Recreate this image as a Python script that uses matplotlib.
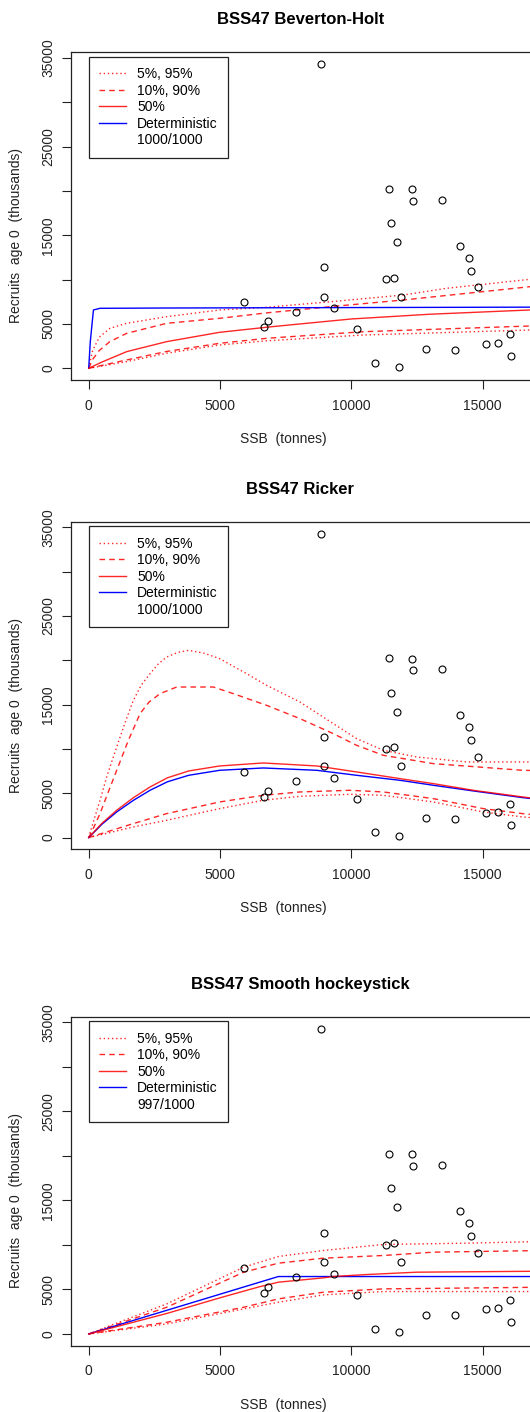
import numpy as np
import matplotlib
matplotlib.use("Agg")
import matplotlib.pyplot as plt
from matplotlib.lines import Line2D

plt.rcParams['font.family'] = ['Liberation Sans', 'DejaVu Sans']

# observed stock-recruit pairs
ssb = [8846, 11434, 12297, 12360, 13439, 11510, 11726, 14137, 14492, 14555,
       8972, 11307, 11611, 14822, 8972, 11903, 5901, 7893, 9340, 6827,
       6688, 10228, 16027, 15114, 15596, 12855, 13934, 16091, 10888, 11802]
rec = [34283, 20261, 20186, 18908, 19021, 16352, 14209, 13833, 12480, 10976,
       11390, 10037, 10187, 9134, 8044, 8044, 7443, 6390, 6766, 5300,
       4624, 4398, 3834, 2782, 2894, 2180, 2105, 1391, 601, 188]

titles = ["BSS47 Beverton-Holt", "BSS47 Ricker", "BSS47 Smooth hockeystick"]
counts = ["1000/1000", "1000/1000", "997/1000"]

# Beverton-Holt
bh_p95_x = [0, 150, 400, 800, 1447, 2970, 4987, 6776, 8000, 9189, 11980, 13633, 16805, 17300]
bh_p95_y = [0, 2000, 3500, 4500, 5075, 5826, 6578, 6879, 7200, 7500, 8268, 9023, 10038, 10150]
bh_p90_x = [0, 150, 400, 800, 1447, 2970, 4987, 6776, 9189, 11980, 16805, 17300]
bh_p90_y = [0, 1000, 2000, 3000, 3947, 5075, 5638, 6250, 6948, 7704, 9204, 9300]
bh_p50_x = [0, 500, 1447, 2970, 4987, 7000, 10000, 13000, 16805, 17300]
bh_p50_y = [0, 700, 1880, 3007, 4060, 4700, 5563, 6100, 6578, 6620]
bh_p10_x = [0, 1447, 2970, 4987, 6776, 10458, 16805, 17300]
bh_p10_y = [0, 940, 1900, 2819, 3383, 4128, 4771, 4790]
bh_p05_x = [0, 1447, 2970, 4987, 6776, 10458, 16805, 17300]
bh_p05_y = [0, 752, 1700, 2631, 3100, 3756, 4320, 4340]
bh_det_x = [0, 60, 180, 430, 3000, 17300]
bh_det_y = [0, 3000, 6578, 6766, 6800, 6900]

# Ricker
rk_p95_x = [0, 200, 431, 700, 1066, 1400, 1700, 2000, 2335, 2650, 2970, 3400, 3807, 4400, 4987, 6015, 6776, 8045, 9314, 10203, 11218, 12487, 14390, 16522, 17300]
rk_p95_y = [0, 2000, 4210, 7000, 10224, 13100, 15487, 17200, 18494, 19600, 20374, 20900, 21126, 20800, 20186, 18494, 17179, 15299, 12856, 11164, 9849, 9097, 8533, 8533, 8550]
rk_p90_x = [0, 200, 431, 700, 1066, 1500, 1954, 2300, 2716, 3350, 4746, 5507, 6776, 8045, 9314, 10203, 11218, 13122, 16522, 17300]
rk_p90_y = [0, 1200, 2706, 4800, 7593, 10900, 13983, 15300, 16239, 16990, 16990, 16239, 14923, 13420, 11728, 10412, 9285, 8345, 7593, 7550]
rk_p50_x = [0, 500, 1066, 1700, 2335, 3000, 3807, 4987, 6649, 8680, 10203, 11853, 13122, 14644, 16522, 17300]
rk_p50_y = [0, 1600, 3082, 4500, 5714, 6750, 7518, 8082, 8420, 8082, 7405, 6653, 6090, 5338, 4586, 4300]
rk_p10_x = [0, 1700, 2970, 4987, 6649, 8045, 9949, 11218, 13122, 15025, 16522, 17300]
rk_p10_y = [0, 1579, 2706, 4022, 4774, 5150, 5338, 5150, 4398, 3270, 2706, 2500]
rk_p05_x = [0, 1700, 2970, 4987, 6649, 8045, 9949, 11218, 13122, 15025, 16522, 17300]
rk_p05_y = [0, 1203, 1955, 3270, 4210, 4661, 4887, 4774, 4022, 2894, 2331, 2150]
rk_det_x = [0, 500, 1066, 1700, 2335, 3000, 3807, 4987, 6649, 8680, 10203, 11853, 13122, 14644, 16522, 17300]
rk_det_y = [0, 1500, 2894, 4200, 5338, 6300, 7029, 7593, 7856, 7593, 7029, 6465, 5902, 5263, 4511, 4250]

# smooth hockeystick
hs_p95_x = [0, 2970, 5901, 7220, 8934, 11218, 14390, 17300]
hs_p95_y = [0, 3375, 7500, 8700, 9375, 10050, 10200, 10388]
hs_p90_x = [0, 2970, 5901, 7220, 8934, 11218, 13122, 17300]
hs_p90_y = [0, 3000, 6938, 7950, 8513, 8813, 9188, 9375]
hs_p50_x = [0, 2970, 4987, 6500, 7220, 8934, 9300, 10583, 12487, 17300]
hs_p50_y = [0, 2300, 4050, 5300, 5813, 6300, 6450, 6675, 6938, 7050]
hs_p10_x = [0, 2970, 5901, 7220, 8934, 11218, 17300]
hs_p10_y = [0, 1313, 3000, 3938, 4688, 5063, 5250]
hs_p05_x = [0, 2970, 5901, 7220, 8934, 11218, 17300]
hs_p05_y = [0, 1125, 2813, 3563, 4388, 4763, 4763]
hs_det_x = [0, 7220, 17300]
hs_det_y = [0, 6450, 6450]

panels = [
    (bh_p95_x, bh_p95_y, bh_p90_x, bh_p90_y, bh_p50_x, bh_p50_y, bh_p10_x, bh_p10_y, bh_p05_x, bh_p05_y, bh_det_x, bh_det_y),
    (rk_p95_x, rk_p95_y, rk_p90_x, rk_p90_y, rk_p50_x, rk_p50_y, rk_p10_x, rk_p10_y, rk_p05_x, rk_p05_y, rk_det_x, rk_det_y),
    (hs_p95_x, hs_p95_y, hs_p90_x, hs_p90_y, hs_p50_x, hs_p50_y, hs_p10_x, hs_p10_y, hs_p05_x, hs_p05_y, hs_det_x, hs_det_y),
]

W, H = 530, 1412
fig = plt.figure(figsize=(W / 100, H / 100), dpi=100)

red = (1.0, 0.0, 0.0, 0.85)
dotted = (0, (1, 2))
dashed = (0, (4, 3))
lw = 1.0

# axes top/bottom in pixels
boxes = [(52.3, 380.0), (521.7, 849.3), (1016.7, 1345.7)]
left_px, right_px = 71.3, 541.4

for i, (top, bot) in enumerate(boxes):
    ax = fig.add_axes([left_px / W, 1 - bot / H, (right_px - left_px) / W, (bot - top) / H])
    p95x, p95y, p90x, p90y, p50x, p50y, p10x, p10y, p05x, p05y, detx, dety = panels[i]

    ax.plot(p95x, p95y, color=red, ls=dotted, lw=lw)
    ax.plot(p90x, p90y, color=red, ls=dashed, lw=lw)
    ax.plot(p10x, p10y, color=red, ls=dashed, lw=lw)
    ax.plot(p05x, p05y, color=red, ls=dotted, lw=lw)
    ax.plot(detx, dety, color='blue', lw=lw)
    ax.plot(p50x, p50y, color=red, lw=lw)
    ax.plot(ssb, rec, 'o', mfc='none', mec='black', ms=5, mew=0.8)

    ax.set_xlim(-663, 17238)
    ax.set_ylim(-1320, 35640)
    ax.set_xticks([0, 5000, 10000, 15000])
    ax.set_yticks([0, 5000, 10000, 15000, 20000, 25000, 30000, 35000])
    ax.set_yticklabels(['0', '5000', '', '15000', '', '25000', '', '35000'],
                       rotation=90, va='center')
    ax.tick_params(direction='out', length=6.5, width=0.8, labelsize=10,
                   colors='#222222')
    ax.tick_params(axis='y', pad=5)
    ax.tick_params(axis='x', pad=7)
    for sp in ax.spines.values():
        sp.set_color('#222222')
        sp.set_linewidth(0.9)

    handles = [
        Line2D([], [], color=red, ls=dotted, lw=lw),
        Line2D([], [], color=red, ls=dashed, lw=lw),
        Line2D([], [], color=red, lw=lw),
        Line2D([], [], color='blue', lw=lw),
        Line2D([], [], color='none', lw=0),
    ]
    labels = ["5%, 95%", "10%, 90%", "50%", "Deterministic", counts[i]]
    leg = ax.legend(handles, labels, loc='upper left',
                    bbox_to_anchor=((88.7 - left_px) / (right_px - left_px),
                                    1 - 4.4 / (bot - top)),
                    borderaxespad=0, fancybox=False, framealpha=1,
                    edgecolor='#222222', fontsize=10, handlelength=1.9,
                    handletextpad=0.85, labelspacing=0.18, borderpad=0.75)
    leg.get_frame().set_linewidth(0.9)

    fig.text(300.5 / W, 1 - (top - 32.5) / H, titles[i], ha='center', va='center',
             fontsize=12, fontweight='bold')
    fig.text(283 / W, 1 - (bot + 59) / H, "SSB  (tonnes)", ha='center', va='center',
             fontsize=10, color='#222222')
    fig.text(16 / W, 1 - (top + 183.5) / H, "Recruits  age 0  (thousands)", ha='center',
             va='center', rotation=90, fontsize=10, color='#222222')

fig.savefig("out.png", dpi=100)
